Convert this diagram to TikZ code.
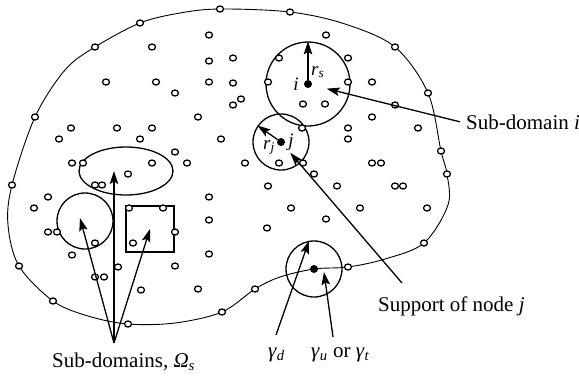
\documentclass[tikz,border=0pt]{standalone}
\usepackage{fontspec}
\setmainfont{Liberation Serif}
\usepackage{tikz}
\usetikzlibrary{calc, positioning, arrows.meta, shapes.geometric}

\begin{document}
\begin{tikzpicture}[x=1pt, y=-1pt]

\tikzset{
  mesh node/.style={
    draw=black, fill=white, ellipse,
    line width=1.3pt,
    minimum width=7pt, minimum height=6pt,
    inner sep=0pt
  },
  field node/.style={fill=black, circle, inner sep=0pt, minimum size=8pt},
  support/.style={draw=black, line width=1.3pt, inner sep=0pt},
  pointer/.style={line width=1.3pt, -{Stealth[length=13pt, width=8.5pt, inset=2.5pt]}},
  label text/.style={inner sep=0pt, font=\fontsize{21}{24}\selectfont},
  small text/.style={inner sep=0pt, font=\fontsize{19}{22}\selectfont\itshape}
}

\useasboundingbox (0,0) rectangle (579,376);

% boundary of the problem domain
\draw[line width=0.9pt] plot[smooth cycle, tension=0.55] coordinates {
  (220,9) (290,12) (345,24) (395,47) (428,93) (441,151) (447,174) (448,205)
  (424,243) (385,259) (348,267) (314,269) (280,277) (255,289) (222,312)
  (175,323) (128,324) (88,316) (53,301) (19,266) (8,225) (12,185) (35,117)
  (65,70) (95,47) (140,23) (180,13)
};

% sub-domains and supports
\node[support, circle, minimum size=84pt] (subi) at (308,84) {};
\node[support, circle, minimum size=56pt] (suppj) at (281,142) {};
\node[support, circle, minimum size=56pt] (suppb) at (314,269) {};
\node[support, ellipse, minimum width=94pt, minimum height=48pt] (sdell) at (126,171) {};
\node[support, circle, minimum size=56pt] (sdcirc) at (85,221) {};
\node[support, rectangle, minimum width=48pt, minimum height=46pt] (sdrect) at (150,229) {};

% field nodes
\foreach \x/\y [count=\k] in {
  209/35, 326/35, 152/47, 209/61, 233/58, 279/58, 348/58,
  106/82, 156/82, 209/82, 233/83, 268/82, 348/82, 372/82,
  175/93, 241/99, 233/105, 303/104, 325/104, 395/105,
  198/117, 372/117, 71/128, 117/128, 152/128, 302/128, 348/128, 418/128,
  348/139, 59/139, 140/139, 221/139, 175/152,
  72/163, 83/163, 152/163, 187/163, 245/163, 279/163, 303/163, 372/163, 381/163,
  128/174, 314/174, 95/185, 102/185, 268/186, 337/186, 395/186, 403/186,
  48/197, 209/197, 34/208, 129/208, 163/208, 291/208, 360/208, 427/208,
  209/220, 326/219, 267/228, 48/232, 57/232, 175/232,
  95/243, 133/243, 72/255, 209/254, 118/267, 175/266,
  95/277, 104/277, 141/290, 198/289
} {
  \node[mesh node] (m\k) at (\x,\y) {};
}

% boundary nodes
\foreach \x/\y [count=\k] in {
  220/9, 290/12, 140/23, 95/47, 35/117, 12/185, 19/266, 53/301, 128/324,
  222/312, 255/289, 348/267, 424/243, 447/174, 441/151, 428/93, 395/47
} {
  \node[mesh node] (b\k) at (\x,\y) {};
}

\node[field node] (ni) at (subi.center) {};
\node[field node] (nj) at (suppj.center) {};
\node[field node] (nb) at (suppb.center) {};

\draw[pointer] (ni) -- (subi.north);
\draw[pointer] (nj) -- (suppj.145);

\node[small text, left=5pt of ni] (lbli) {i};
\node[small text, right=3pt of nj] (lblj) {j};
\node[small text, anchor=base west] (lblrs) at (311,75) {r\textsubscript{s}};
\node[small text, anchor=base west] (lblrj) at (263,149) {r\textsubscript{j}};

% labels
\node[label text, anchor=base west] (lblsubi) at (466,129) {Sub-domain \textit{i}};
\node[label text, anchor=base west] (lblsupp) at (378,311) {Support of node \textit{j}};
\node[label text, anchor=base west] (lblsd) at (52,367) {Sub-domains, \textit{Ω}\textsubscript{\textit{s}}};
\node[label text, anchor=base west] (lblgd) at (268,357) {\textit{γ}\textsubscript{\textit{d}}};
\node[label text, anchor=base west] (lblgu) at (311,357) {\textit{γ}\textsubscript{\textit{u}} or \textit{γ}\textsubscript{\textit{t}}};

\coordinate (apex) at (114,343);
\coordinate (suppend) at (402,283);
\coordinate (gdend) at (276,335);
\coordinate (guend) at (333,337);
\coordinate (gutip) at (324,272);

\draw[pointer, shorten >=15pt] ([xshift=-6pt]lblsubi.west) -- (ni);
\draw[pointer, shorten >=10pt] (suppend) -- (nj);

\draw[pointer] (apex) -- ([xshift=-5pt, yshift=3pt]sdcirc.center);
\draw[pointer] (apex) -- (apex |- sdell.center);
\draw[pointer] (apex) -- (sdrect.center);

\draw[pointer] (gdend) -- (suppb.100);
\draw[pointer] (guend) -- (gutip);

\end{tikzpicture}
\end{document}
